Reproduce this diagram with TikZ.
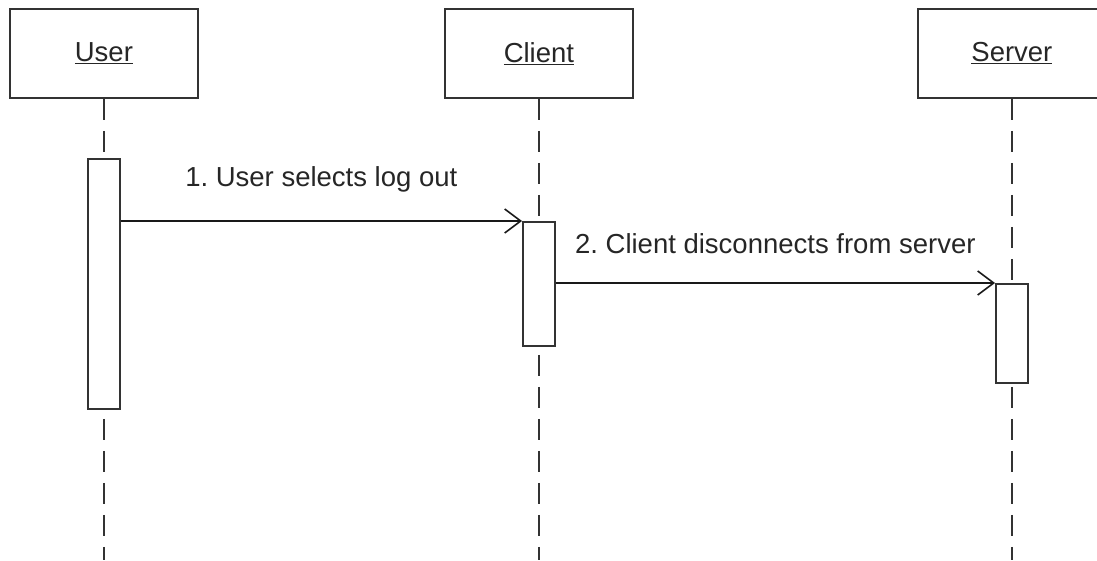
\documentclass[tikz,border=0pt]{standalone}
\usepackage{fontspec}
\setmainfont{Liberation Sans}
\usetikzlibrary{arrows.meta}
\frenchspacing
\definecolor{inkline}{HTML}{333333}
\definecolor{inktext}{HTML}{262626}
\tikzset{
  objbox/.style={draw=inkline, line width=1.8pt, fill=white, minimum width=188pt,
    minimum height=89pt, inner sep=0pt, anchor=north west,
    font=\fontsize{27.5}{33}\selectfont, text=inktext},
  actbox/.style={draw=inkline, line width=1.6pt, fill=white, minimum width=32pt,
    inner sep=0pt, anchor=north west},
  lifeline/.style={draw=inkline, line width=1.8pt, dash pattern=on 21pt off 11pt},
  msg/.style={draw=black!90, line width=1.6pt,
    -{Straight Barb[length=16pt,width=24pt,line width=1.6pt]}},
  msglabel/.style={font=\fontsize{27.5}{33}\selectfont, text=inktext, inner sep=0pt,
    anchor=base}
}
\begin{document}
\begin{tikzpicture}[x=1pt,y=-1pt]
  \useasboundingbox (0,0) rectangle (1097,560);
  \clip (0,0) rectangle (1097,560);

  % object headers
  \node[objbox] (user)   at (9,8)   {\underline{User}};
  \node[objbox] (client) at (444,8) {\underline{Client}};
  \node[objbox] (server) at (917,8) {\underline{Server}};

  % lifeline ends at the bottom edge
  \coordinate (userEnd)   at (user.south |- 0,560);
  \coordinate (clientEnd) at (client.south |- 0,560);
  \coordinate (serverEnd) at (server.south |- 0,560);

  \draw[lifeline] (user.south)   -- (userEnd);
  \draw[lifeline] (client.south) -- (clientEnd);
  \draw[lifeline] (server.south) -- (serverEnd);

  % activation bars
  \node[actbox, minimum height=250pt] (actU) at (87,158)  {};
  \node[actbox, minimum height=124pt] (actC) at (522,221) {};
  \node[actbox, minimum height=99pt]  (actS) at (995,283) {};

  % messages
  \draw[msg] (actU.east |- actC.north west) -- (actC.north west)
    node[msglabel, midway, above=28pt] {1. User selects log out};
  \draw[msg] (actC.east |- actS.north west) -- (actS.north west)
    node[msglabel, midway, above=28pt] {2. Client disconnects from server};
\end{tikzpicture}
\end{document}
